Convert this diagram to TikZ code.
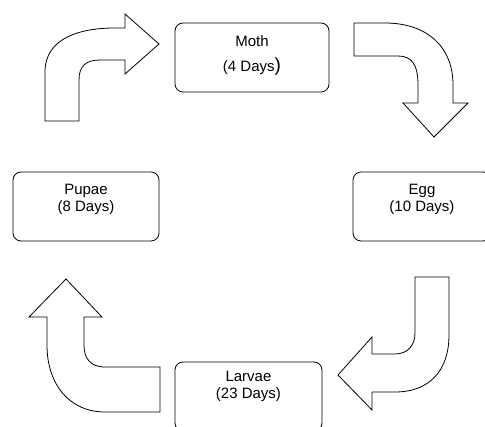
\documentclass[tikz,border=0pt]{standalone}
\usepackage{fontspec}
\setmainfont{Liberation Sans}

\begin{document}
\begin{tikzpicture}[
  x=1pt, y=-1pt,
  font=\fontsize{15}{17}\selectfont,
  stage/.style={
    draw,
    rounded corners=8pt,
    line width=0.8pt,
    minimum height=69pt
  },
  txt/.style={align=center, inner sep=0pt},
  blk/.style={draw, fill=white, line width=0.8pt, line join=miter}
]

% -------------------------------------------------
% Frame
% -------------------------------------------------
\useasboundingbox (0,0) rectangle (485,427);
\clip (0,0) rectangle (485,427);

% -------------------------------------------------
% STAGE BOXES
% -------------------------------------------------
\node[stage, minimum width=154pt] (moth) at (252,57.5) {};
\node[stage, minimum width=138pt] (egg) at (422,206.5) {};
\node[stage, minimum width=146pt] (pupae) at (86,206.5) {};
\node[stage, minimum width=147pt] (larvae) at (248.5,396.5) {};

% -------------------------------------------------
% STAGE TEXTS
% -------------------------------------------------
\node[txt] (moth-t) at (252,56) {Moth\\[8pt](4 Days{\fontsize{19}{19}\selectfont )}};
\node[txt] (egg-t) at (422,199) {Egg\\(10 Days)};
\node[txt] (pupae-t) at (86,199) {Pupae\\(8 Days)};
\node[txt] (larvae-t) at (248.5,386) {Larvae\\(23 Days)};

% -------------------------------------------------
% BLOCK ARROWS
% -------------------------------------------------
% Pupae -> Moth
\draw[blk] (45,121) -- (45,72) .. controls (45,38) and (80,28) .. (115,28)
  -- (125,28) -- (125,14) -- (159,44) -- (125,74) -- (125,60) -- (100,60)
  .. controls (86,60) and (79,66) .. (79,80) -- (79,121) -- cycle;

% Moth -> Egg
\draw[blk] (354,23) -- (385,23) .. controls (425,23) and (453,45) .. (453,85)
  -- (453,103) -- (468,103) -- (434,137) -- (403,103) -- (418,103) -- (418,85)
  .. controls (418,65) and (412,56) .. (398,56) -- (354,56) -- cycle;

% Egg -> Larvae
\draw[blk] (415,277) -- (449,277) -- (449,335) .. controls (449,370) and (430,392) .. (395,392)
  -- (372,392) -- (372,410) -- (338,375) -- (372,337) -- (372,354) -- (395,354)
  .. controls (408,354) and (415,345) .. (415,333) -- cycle;

% Larvae -> Pupae
\draw[blk] (160,367) -- (105,367) .. controls (90,367) and (84,358) .. (84,345)
  -- (84,317) -- (102,317) -- (66,279) -- (29,317) -- (47,317) -- (47,345)
  .. controls (47,385) and (70,412) .. (105,412) -- (160,412) -- cycle;

\end{tikzpicture}
\end{document}
